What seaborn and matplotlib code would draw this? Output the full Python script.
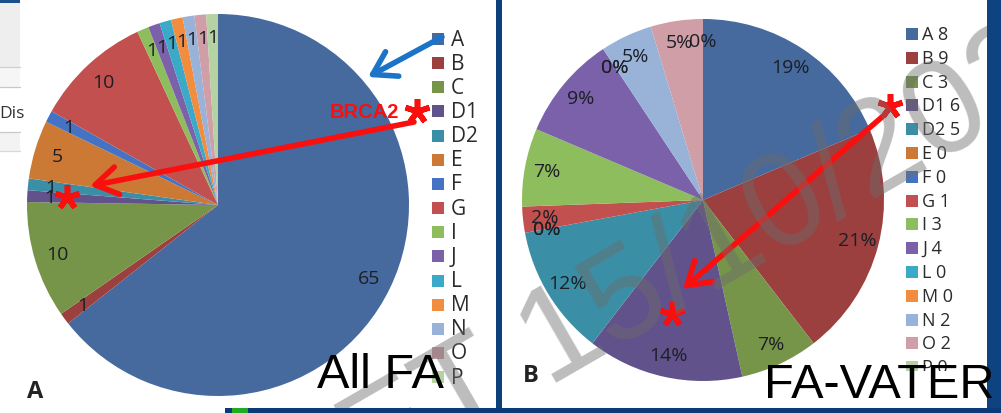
import matplotlib
matplotlib.use("Agg")
import matplotlib.pyplot as plt
from matplotlib.patches import Rectangle
import seaborn as sns

# Category order shared by both pies and legends
categories = ["A", "B", "C", "D1", "D2", "E", "F", "G", "I", "J", "L", "M", "N", "O", "P"]
# Patient counts per complementation group
all_fa_counts = [65, 1, 10, 1, 1, 5, 1, 10, 1, 1, 1, 1, 1, 1, 1]
fa_vater_counts = [8, 9, 3, 6, 5, 0, 0, 1, 3, 4, 0, 0, 2, 2, 0]
group_colors = ["#46699e", "#9c3f3f", "#779549", "#62528c", "#3a8fa7",
                "#cb7935", "#4573c3", "#c1504e", "#8ebd5e", "#7b60aa",
                "#3aaac8", "#f28c3f", "#98b2d8", "#cf9ea6", "#b5d3a2"]

W, H = 1001, 414
sns.set_theme(style="white")
plt.rcParams["font.family"] = ["Open Sans", "DejaVu Sans"]
palette = sns.color_palette(group_colors)

fig = plt.figure(figsize=(W / 100, H / 100), dpi=100)
fig.patch.set_facecolor("white")


def px_axes(x0, y0, w, h, z):
    return fig.add_axes([x0 / W, 1 - (y0 + h) / H, w / W, h / H], zorder=z)


def overlay(z):
    ax = px_axes(0, 0, W, H, z)
    ax.set_xlim(0, W)
    ax.set_ylim(H, 0)
    ax.axis("off")
    ax.patch.set_alpha(0)
    return ax


# ---- background: slide chrome on the left edge ----
bg = overlay(0)
bg.add_patch(Rectangle((0, 0), 20, 4, color="#1d4f8f", lw=0))
bg.add_patch(Rectangle((0, 4), 20, 64, color="#eeeeee", lw=0))
bg.add_patch(Rectangle((0, 68), 20, 20, color="#f6f6f6", lw=0))
bg.add_patch(Rectangle((0, 133), 20, 19, color="#f3f3f3", lw=0))
for yy, c in [(68, "#cfcfcf"), (88, "#c8c8c8"), (133, "#c8c8c8"), (152, "#d8d8d8")]:
    bg.plot([0, 20], [yy, yy], color=c, lw=0.9)
bg.text(-1, 118, "Dis", fontsize=12.5, color="#333333", ha="left", va="baseline")


# ---- pies ----
def draw_pie(cx, cy, r, counts, autopct):
    k = 1.08
    ax = px_axes(cx - r * k, cy - r * k, 2 * r * k, 2 * r * k, 1)
    ax.pie(counts, colors=palette, startangle=90, counterclock=False,
           autopct=autopct, pctdistance=0.88,
           wedgeprops=dict(linewidth=0),
           textprops=dict(fontsize=14, color="#1c1f26"))
    ax.set_xlim(-k, k)
    ax.set_ylim(-k, k)
    ax.set_aspect("equal")
    return ax


total_all = sum(all_fa_counts)
draw_pie(218, 206, 191, all_fa_counts, lambda p: f"{p * total_all / 100:.0f}")
draw_pie(703, 201, 181, fa_vater_counts, "%1.0f%%")

fg = overlay(2)

# ---- legends ----
for i, (cat, col) in enumerate(zip(categories, palette)):
    y = 40 + i * 24.15
    fg.add_patch(Rectangle((432, y - 6), 12, 12, color=col, lw=0, zorder=3))
    fg.text(451, y, cat, fontsize=15, color="#2b2b2b", ha="left", va="center", zorder=3)
for i, (cat, col, n) in enumerate(zip(categories, palette, fa_vater_counts)):
    y = 35 + i * 23.8
    fg.add_patch(Rectangle((906, y - 6), 12, 12, color=col, lw=0, zorder=3))
    fg.text(922, y, f"{cat} {n}", fontsize=13, color="#2b2b2b", ha="left", va="center", zorder=3)

# ---- annotations ----
red = "#fa0f0f"
blue = "#1c74c8"
arrow_kw = dict(arrowstyle="->,head_length=0.8,head_width=0.5", lw=4, shrinkA=0, shrinkB=0,
                mutation_scale=20)
fg.annotate("", xy=(90, 187), xytext=(414, 123), arrowprops=dict(color=red, **arrow_kw), zorder=4)
fg.annotate("", xy=(683, 290), xytext=(882, 118), arrowprops=dict(color=red, **arrow_kw), zorder=4)
fg.annotate("", xy=(368, 78), xytext=(442, 38), arrowprops=dict(color=blue, **arrow_kw), zorder=4)
for (x, y) in [(417, 112), (67, 198), (890, 107), (672, 315)]:
    fg.plot(x, y, marker=(5, 2, 0), markersize=18, mew=4, color=red, zorder=4)
fg.text(330, 118, "BRCA2", fontsize=14.5, fontweight="bold", color=red,
        family="Liberation Sans", ha="left", va="baseline", zorder=4)

# panel letters
fg.text(27, 398, "A", fontsize=17, fontweight="bold", color="#222222", ha="left", va="baseline", zorder=4)
fg.text(523, 382, "B", fontsize=17, fontweight="bold", color="#222222", ha="left", va="baseline", zorder=4)

# ---- watermark ----
fg.text(370, 490, "ET 15/10/2023", rotation=30, rotation_mode="anchor", ha="left", va="baseline",
        fontsize=96, color="#6c6c6c", alpha=0.45, family="Liberation Sans", zorder=5)

# ---- slide frame ----
fg.add_patch(Rectangle((496, 0), 6, H, color="#0c4078", lw=0, zorder=6))
fg.add_patch(Rectangle((987, 0), 14, H, color="#0e4280", lw=0, zorder=6))
fg.add_patch(Rectangle((225, 409), W - 225, 5, color="#0a3a78", lw=0, zorder=6))
fg.add_patch(Rectangle((232, 409), 16, 5, color="#22aa22", lw=0, zorder=6))

# ---- chart titles ----
fg.text(317, 388, "All FA", fontsize=35, color="black", family="Liberation Sans",
        ha="left", va="baseline", zorder=7)
fg.add_patch(Rectangle((762, 372), 225, 37, color="white", lw=0, zorder=6.5))
fg.text(764, 398, "FA-VATER", fontsize=35, color="black", family="Liberation Sans",
        ha="left", va="baseline", zorder=7)

fig.savefig("out.png", dpi=100, facecolor="white")
